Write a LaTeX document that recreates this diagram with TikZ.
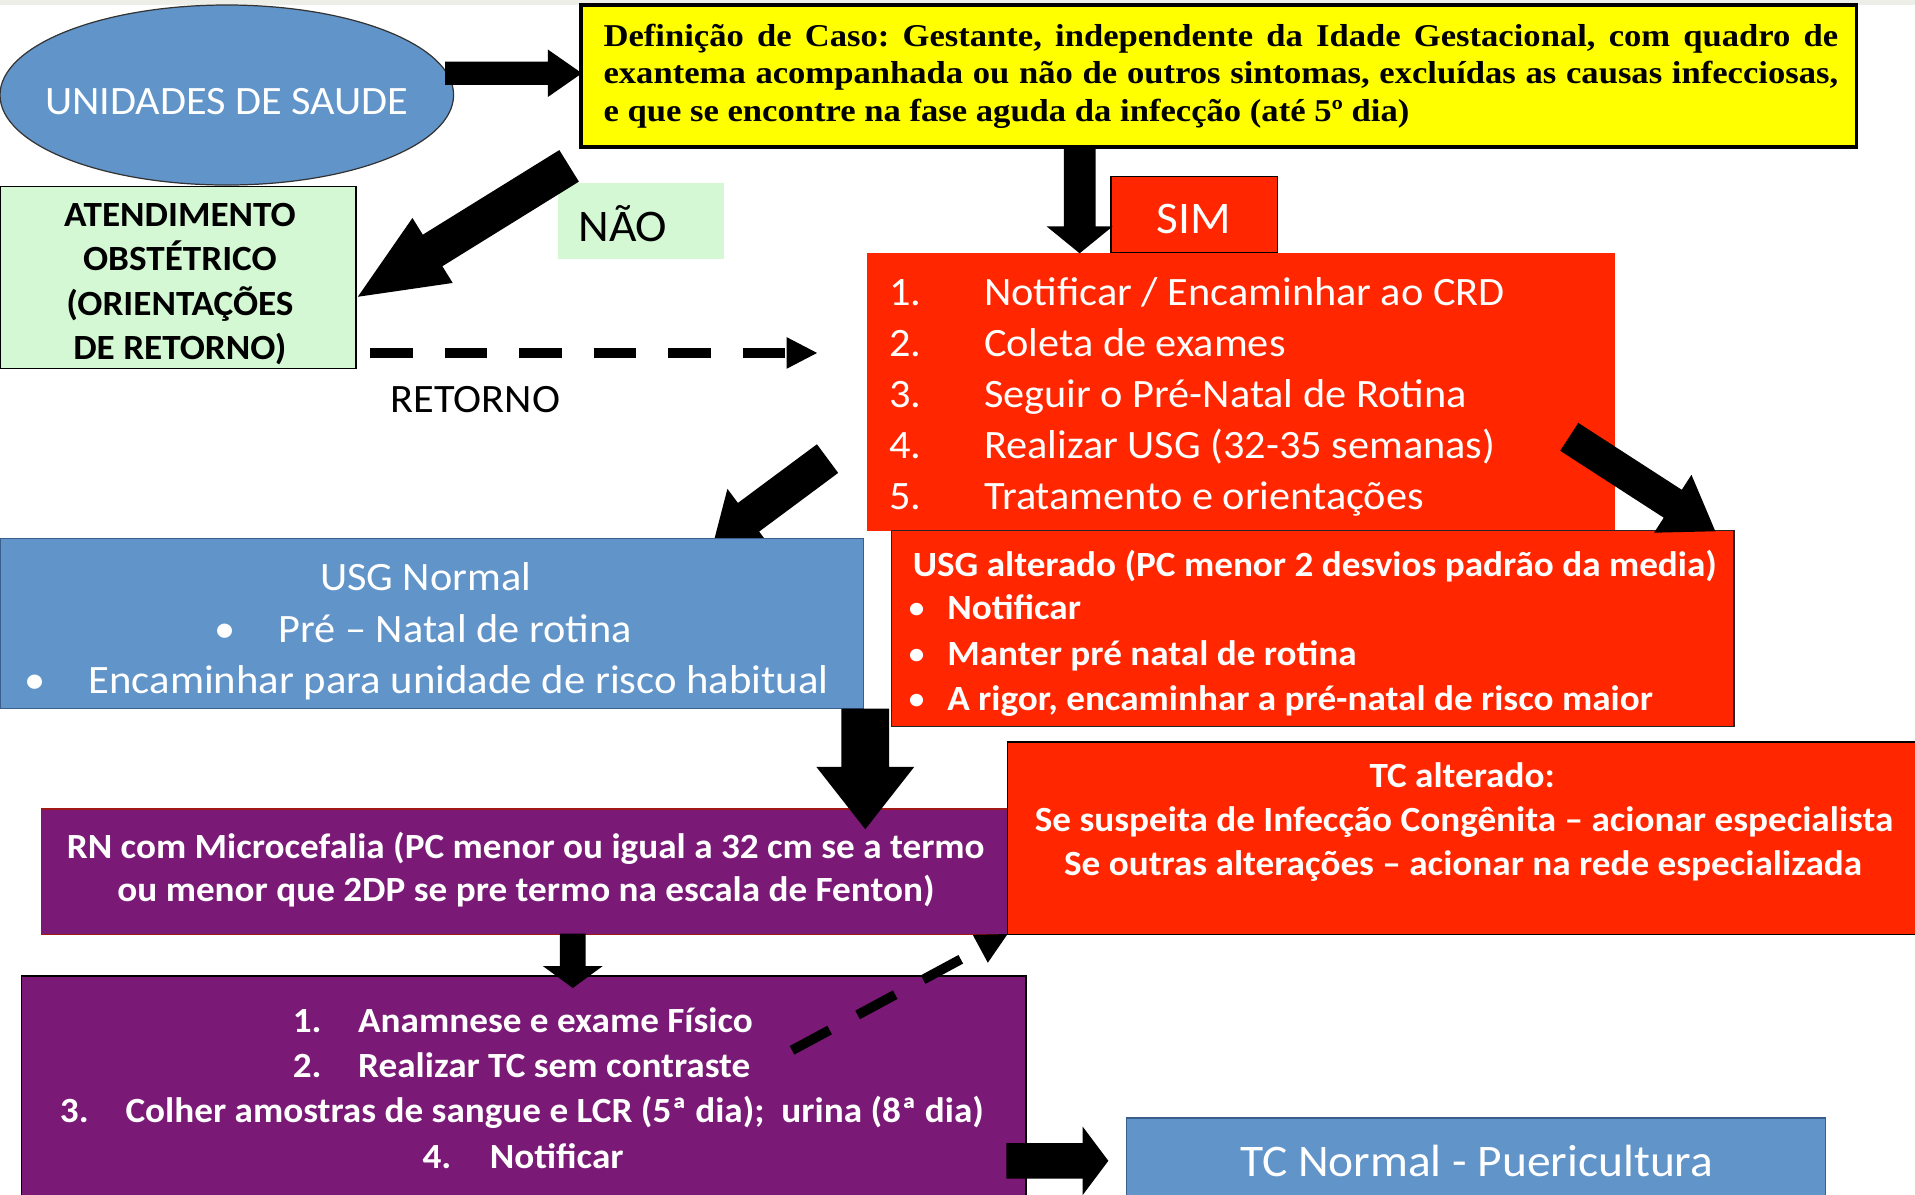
\documentclass[tikz,border=0pt]{standalone}
\usepackage{fontspec}
\setmainfont{Carlito}[FakeStretch=1.05]
\newfontfamily\yserif{Liberation Serif}[FakeStretch=1.09]
\usetikzlibrary{calc,fit,shapes.geometric}
\frenchspacing
\definecolor{cblue}{HTML}{6194C9}
\definecolor{bblue}{HTML}{3A5F8C}
\definecolor{cred}{HTML}{FF2600}
\definecolor{cpurp}{HTML}{7A1A76}
\definecolor{cgreen}{HTML}{D4F8D4}
\definecolor{cyel}{HTML}{FFFF00}
\definecolor{cgray}{HTML}{EEEEE8}
\definecolor{rnborder}{HTML}{A01818}
% block arrow: #1 tail, #2 tip, #3 half shaft, #4 half head, #5 head length
\newcommand\blkarrow[5]{%
  \fill ($(#1)!#3!90:(#2)$) -- ($($(#2)!#5!(#1)$)!#3!-90:(#1)$)
    -- ($($(#2)!#5!(#1)$)!#4!-90:(#1)$) -- (#2)
    -- ($($(#2)!#5!(#1)$)!#4!90:(#1)$) -- ($($(#2)!#5!(#1)$)!#3!90:(#1)$)
    -- ($(#1)!#3!-90:(#2)$) -- cycle;}
% dashed arrow: #1 start, #2 tip, #3 half head, #4 head length
\newcommand\dsharrow[4]{%
  \draw[dsh] (#1) -- ($(#2)!#4!(#1)$);
  \fill ($($(#2)!#4!(#1)$)!#3!90:(#1)$) -- (#2) -- ($($(#2)!#4!(#1)$)!#3!-90:(#1)$) -- cycle;}
\begin{document}
\begin{tikzpicture}[x=0.5pt,y=-0.5pt,
  box/.style={rectangle, inner sep=0pt, outer sep=0pt, line width=0.6pt},
  tw/.style={inner sep=0pt, outer sep=0pt, text=white, font=\fontsize{16.5}{19.8}\selectfont},
  twl/.style={inner sep=0pt, outer sep=0pt, text=white, font=\fontsize{18.5}{22}\selectfont},
  twb/.style={inner sep=0pt, outer sep=0pt, text=white, font=\bfseries\fontsize{14.5}{17.4}\selectfont},
  bul/.style={inner sep=0pt, outer sep=0pt, text=white, font=\fontsize{14.5}{17.4}\selectfont},
  tk/.style={tw, text=black},
  tkl/.style={twl, text=black},
  tkb/.style={twb, text=black},
  ys/.style={inner sep=0pt, outer sep=0pt, text=black, font=\yserif\bfseries\fontsize{13}{15}\selectfont\frenchspacing},
  dsh/.style={line width=4pt, dash pattern=on 17.5pt off 13pt}
]
\useasboundingbox (0,0) rectangle (1568,978);
\clip (0,0) rectangle (1568,978);
\fill[cgray] (0,0) rectangle (1568,4.1);

% ---------- ellipse
\node[ellipse, draw=black!80, line width=0.5pt, fill=cblue, minimum width=185.7pt, minimum height=73.7pt, inner sep=0pt] (us) at (185.7,77.8) {};
\node[tw, anchor=base] (usT) at (185.8,93.4) {UNIDADES DE SAUDE};

% ---------- yellow definition box
\node[box, draw=black, line width=1.5pt, fill=cyel, fit={(475.5,4.1) (1520.2,120.1)}] (def) {};
\node[ys, anchor=base west] (def1) at (494.2,37.8) {\makebox[505.5pt][s]{Definição de Caso: Gestante, independente da Idade Gestacional, com quadro de}};
\node[ys, anchor=base west] (def2) at (494.2,68.6) {\makebox[505.5pt][s]{exantema acompanhada ou não de outros sintomas, excluídas as causas infecciosas,}};
\node[ys, anchor=base west] (def3) at (494.2,99.4) {e que se encontre na fase aguda da infecção (até 5º dia)};

% ---------- atendimento obstetrico
\node[box, draw=black, fill=cgreen, fit={(0,152.9) (291.4,301.6)}] (ate) {};
\node[tkb, anchor=base] (ate1) at (147.3,185.6) {ATENDIMENTO};
\node[tkb, anchor=base] (ate2) at (147.3,221.4) {OBSTÉTRICO};
\node[tkb, anchor=base] (ate3) at (147.3,258.2) {(ORIENTAÇÕES};
\node[tkb, anchor=base] (ate4) at (147.3,294.6) {DE RETORNO)};

% ---------- NAO label
\node[box, fill=cgreen, fit={(457,149.6) (593,212.3)}] (naobox) {};
\node[tkl, anchor=base] (nao) at (510,198) {NÃO};

% ---------- red list box
\node[box, fill=cred, fit={(709.5,207) (1322.5,434.5)}] (lst) {};
\node[box, draw=black, fill=cred, fit={(909.7,144.7) (1046,206.6)}] (sim) {};
\node[twl, anchor=base] (simT) at (977.3,191.5) {SIM};
\foreach \n/\t/\yy in {1/{Notificar / Encaminhar ao CRD}/250, 2/{Coleta de exames}/291.7, 3/{Seguir o Pré-Natal de Rotina}/333.4, 4/{Realizar USG (32-35 semanas)}/375.1, 5/{Tratamento e orientações}/416.8}{
  \node[tw, anchor=base west] (lstn\n) at (728,\yy) {\n.};
  \node[tw, anchor=base west] (lstt\n) at (805.8,\yy) {\t};
}

% ---------- RETORNO
\coordinate (retA) at (303,289);
\coordinate (retB) at (669,289);
\dsharrow{retA}{retB}{6.5pt}{12.5pt}
\node[tk, anchor=base] (ret) at (389.4,337.5) {RETORNO};

% arrow list -> USG normal (tip hidden under box)
\coordinate (a4A) at (677.6,375.5);
\coordinate (a4B) at (584,445);
\blkarrow{a4A}{a4B}{7.3pt}{14.5pt}{18pt}

% ---------- USG normal
\node[box, draw=bblue, fill=cblue, fit={(0,441) (707,580.3)}] (usgn) {};
\node[tw, anchor=base] (usgn1) at (348.5,483.5) {USG Normal};
\node[tw, anchor=base] (usgnb2) at (184,526.4) {•};
\node[tw, anchor=base west] (usgn2) at (228.1,526.4) {Pré – Natal de rotina};
\node[tw, anchor=base] (usgnb3) at (28.6,567.7) {•};
\node[tw, anchor=base west] (usgn3) at (72.5,567.7) {\addfontfeature{FakeStretch=1.06}Encaminhar para unidade de risco habitual};

% ---------- USG alterado
\node[box, draw=black!85, fill=cred, fit={(730,434.5) (1419.6,595)}] (usga) {};
\node[twb, anchor=base west] (usga1) at (747.4,472) {USG alterado (PC menor 2 desvios padrão da media)};
\foreach \n/\t/\yy in {2/{Notificar}/507.5, 3/{Manter pré natal de rotina}/545, 4/{A rigor, encaminhar a pré-natal de risco maior}/581.5}{
  \node[bul, anchor=base] (usgab\n) at (750.5,\yy) {•};
  \node[twb, anchor=base west] (usga\n) at (775.6,\yy) {\t};
}

% ---------- RN box
\node[box, draw=rnborder, fill=cpurp, fit={(34.1,662.5) (826,765.2)}] (rn) {};
\node[twb, anchor=base] (rn1) at (430.5,702.7) {RN com Microcefalia (PC menor ou igual a 32 cm se a termo};
\node[twb, anchor=base] (rn2) at (430.7,738.3) {ou menor que 2DP se pre termo na escala de Fenton)};

% ---------- Anamnese box
\node[box, draw=black, fill=cpurp, fit={(17.5,799.3) (840,995)}] (ana) {};
\node[twb, anchor=base west] (anan1) at (239.7,845.5) {1.};
\node[twb, anchor=base west] (anat1) at (293.3,845.5) {Anamnese e exame Físico};
\node[twb, anchor=base west] (anan2) at (239.7,882.5) {2.};
\node[twb, anchor=base west] (anat2) at (293.3,882.5) {Realizar TC sem contraste};
\node[twb, anchor=base west] (anan3) at (49.1,919.5) {3.};
\node[twb, anchor=base west] (anat3) at (102.8,919.5) {Colher amostras de sangue e LCR (5ª dia);~ urina (8ª dia)};
\node[twb, anchor=base west] (anan4) at (346,956.5) {4.};
\node[twb, anchor=base west] (anat4) at (401.1,956.5) {Notificar};

% ---------- TC normal
\node[box, draw=bblue, fill=cblue, fit={(922.4,915.6) (1494.8,995)}] (tcn) {};
\node[twl, anchor=base] (tcnT) at (1209.1,963.2) {TC Normal - Puericultura};

% dashed arrow anamnese -> TC alterado
\coordinate (dgA) at (648.5,860);
\coordinate (dgB) at (825,764.8);
\dsharrow{dgA}{dgB}{6.5pt}{12.7pt}

% ---------- TC alterado
\node[box, draw=black, fill=cred, fit={(825,607.5) (1590,765.2)}] (tca) {};
\node[twb, anchor=base] (tca1) at (1197.2,645) {TC alterado:};
\node[twb, anchor=base] (tca2) at (1198.8,680.5) {Se suspeita de Infecção Congênita – acionar especialista};
\node[twb, anchor=base] (tca3) at (1198,717) {Se outras alterações – acionar na rede especializada};

% ---------- block arrows
\coordinate (a1A) at (364.5,60);
\coordinate (a1B) at (476.5,60);
\blkarrow{a1A}{a1B}{4.75pt}{9.75pt}{14pt}
\coordinate (a2A) at (466,135.8);
\coordinate (a2B) at (293,243);
\blkarrow{a2A}{a2B}{7.6pt}{15.65pt}{36pt}
\coordinate (a3A) at (884,120);
\coordinate (a3B) at (884,207.4);
\blkarrow{a3A}{a3B}{6.5pt}{13.5pt}{11pt}
\coordinate (a5A) at (1284.9,357.7);
\coordinate (a5B) at (1404.5,435);
\blkarrow{a5A}{a5B}{6.8pt}{14.1pt}{20.75pt}
\coordinate (a6A) at (708.5,580.3);
\coordinate (a6B) at (708.5,679);
\blkarrow{a6A}{a6B}{9.75pt}{20pt}{25.5pt}
\coordinate (a7A) at (469,764.5);
\coordinate (a7B) at (469,809);
\blkarrow{a7A}{a7B}{5.25pt}{12.25pt}{9pt}
\coordinate (a8A) at (824,950.5);
\coordinate (a8B) at (907.5,950.5);
\blkarrow{a8A}{a8B}{7.25pt}{14pt}{10.5pt}
\end{tikzpicture}
\end{document}
